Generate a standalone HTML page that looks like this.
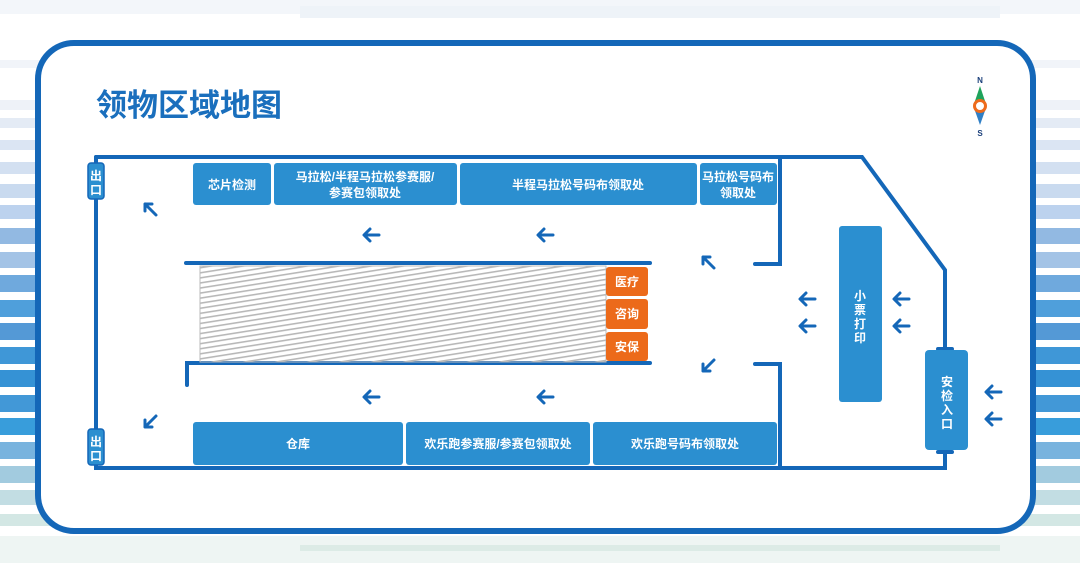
<!DOCTYPE html>
<html><head><meta charset="utf-8"><style>
html,body{margin:0;padding:0;background:#fff}
svg{display:block}
text{font-family:"Liberation Sans","Noto Sans CJK SC",sans-serif;font-weight:bold}
</style></head><body>
<svg width="1080" height="563" viewBox="0 0 1080 563" xmlns="http://www.w3.org/2000/svg">
<defs>
<pattern id="h" width="12" height="5" patternUnits="userSpaceOnUse" patternTransform="rotate(-9)">
<rect width="12" height="1.6" fill="#b8b8b8"/>
</pattern>
<path id="la" d="M-7 0 L7 0 M-2 -6 L-8 0 L-2 6"/>
</defs>
<rect width="1080" height="563" fill="#fff"/>
<rect x="0" y="0" width="1080" height="14" fill="#f3f6fa"/>
<rect x="300" y="6" width="700" height="12" fill="#eef3f8"/>
<rect x="0" y="536" width="1080" height="27" fill="#eef5f3"/>
<rect x="300" y="545" width="700" height="6" fill="#dcebe6"/>
<g>
<rect x="0" y="60" width="1080" height="8" fill="#f1f4f9"/>
<rect x="0" y="100" width="1080" height="10" fill="#eef2f8"/>
<rect x="0" y="118" width="1080" height="10" fill="#e4ebf5"/>
<rect x="0" y="140" width="1080" height="10" fill="#dbe5f3"/>
<rect x="0" y="162" width="1080" height="12" fill="#d3e0f1"/>
<rect x="0" y="184" width="1080" height="14" fill="#c9daef"/>
<rect x="0" y="205" width="1080" height="14" fill="#bcd2ee"/>
<rect x="0" y="228" width="1080" height="16" fill="#92b9e2"/>
<rect x="0" y="252" width="1080" height="16" fill="#a3c3e6"/>
<rect x="0" y="275" width="1080" height="17" fill="#6fa9dd"/>
<rect x="0" y="300" width="1080" height="17" fill="#4f9fdb"/>
<rect x="0" y="323" width="1080" height="17" fill="#5499d6"/>
<rect x="0" y="347" width="1080" height="17" fill="#3f97d7"/>
<rect x="0" y="370" width="1080" height="17" fill="#3592d5"/>
<rect x="0" y="395" width="1080" height="17" fill="#4298d7"/>
<rect x="0" y="418" width="1080" height="17" fill="#389ddb"/>
<rect x="0" y="442" width="1080" height="17" fill="#78b3de"/>
<rect x="0" y="466" width="1080" height="17" fill="#a2cbdf"/>
<rect x="0" y="490" width="1080" height="15" fill="#c2dde3"/>
<rect x="0" y="514" width="1080" height="12" fill="#d3e7e4"/>
</g>
<rect x="38" y="43" width="995" height="488" rx="36" fill="#fff" stroke="#1467b8" stroke-width="6"/>
<text x="96" y="116" font-size="31" fill="#1a6fbd">领物区域地图</text>
<text x="980" y="83" font-size="8" text-anchor="middle" fill="#1a3f7a">N</text>
<path d="M980 86 L986 104 L974 104Z" fill="#1fa35c"/>
<path d="M980 125 L986 108 L974 108Z" fill="#2f7fc6"/>
<circle cx="980" cy="106" r="5.5" fill="#fff" stroke="#ee6b1c" stroke-width="3"/>
<text x="980" y="136" font-size="8" text-anchor="middle" fill="#1a3f7a">S</text>
<g fill="none" stroke="#1467b8" stroke-width="4" stroke-linecap="round">
<path d="M96 157 L862 157 L945 270 L945 348"/>
<path d="M96 157 L96 468 L945 468 L945 452"/>
<path d="M780 157 L780 264 L755 264"/>
<path d="M755 364 L780 364 L780 468"/>
<path d="M186 263 L650 263"/>
<path d="M187 385 L187 363 L650 363"/>
<path d="M938 349 L952 349 M938 452 L952 452"/>
</g>
<rect x="88" y="163" width="16" height="36" rx="3" fill="#2b8fd0" stroke="#1467b8" stroke-width="1.5"/>
<text x="96" y="180" font-size="12" text-anchor="middle" fill="#fff">出</text>
<text x="96" y="194" font-size="12" text-anchor="middle" fill="#fff">口</text>
<rect x="88" y="429" width="16" height="36" rx="3" fill="#2b8fd0" stroke="#1467b8" stroke-width="1.5"/>
<text x="96" y="446" font-size="12" text-anchor="middle" fill="#fff">出</text>
<text x="96" y="460" font-size="12" text-anchor="middle" fill="#fff">口</text>
<rect x="200" y="266" width="406" height="96" fill="url(#h)" stroke="#bbb" stroke-width="1"/>
<g fill="#2b8fd0">
<rect x="193" y="163" width="78" height="42" rx="3"/>
<rect x="274" y="163" width="183" height="42" rx="3"/>
<rect x="460" y="163" width="237" height="42" rx="3"/>
<rect x="700" y="163" width="77" height="42" rx="3"/>
<rect x="193" y="422" width="210" height="43" rx="3"/>
<rect x="406" y="422" width="184" height="43" rx="3"/>
<rect x="593" y="422" width="184" height="43" rx="3"/>
<rect x="839" y="226" width="43" height="176" rx="3"/>
<rect x="925" y="350" width="43" height="100" rx="4"/>
</g>
<g fill="#ec6a1a">
<rect x="606" y="267" width="42" height="29" rx="3"/>
<rect x="606" y="299" width="42" height="30" rx="3"/>
<rect x="606" y="332" width="42" height="29" rx="3"/>
</g>
<g fill="#fff" font-size="12" text-anchor="middle">
<text x="232" y="189">芯片检测</text>
<text x="365" y="181">马拉松/半程马拉松参赛服/</text>
<text x="365" y="197">参赛包领取处</text>
<text x="578" y="189">半程马拉松号码布领取处</text>
<text x="738" y="181">马拉松号码布</text>
<text x="738" y="197">领取处</text>
<text x="298" y="448">仓库</text>
<text x="498" y="448">欢乐跑参赛服/参赛包领取处</text>
<text x="685" y="448">欢乐跑号码布领取处</text>
<text x="627" y="286">医疗</text>
<text x="627" y="318">咨询</text>
<text x="627" y="351">安保</text>
<text x="860" y="300">小</text>
<text x="860" y="314">票</text>
<text x="860" y="328">打</text>
<text x="860" y="342">印</text>
<text x="947" y="386">安</text>
<text x="947" y="400">检</text>
<text x="947" y="414">入</text>
<text x="947" y="428">口</text>
</g>
<g fill="none" stroke="#1467b8" stroke-width="3" stroke-linecap="round" stroke-linejoin="round">
<use href="#la" x="372" y="235"/><use href="#la" x="546" y="235"/>
<use href="#la" x="372" y="397"/><use href="#la" x="546" y="397"/>
<use href="#la" x="808" y="299"/><use href="#la" x="808" y="326"/>
<use href="#la" x="902" y="299"/><use href="#la" x="902" y="326"/>
<use href="#la" x="994" y="392"/><use href="#la" x="994" y="419"/>
<path d="M156 215 L145 204 M145 211 L145 204 L152 204"/>
<path d="M714 268 L703 257 M703 264 L703 257 L710 257"/>
<path d="M156 416 L145 427 M145 420 L145 427 L152 427"/>
<path d="M714 360 L703 371 M703 364 L703 371 L710 371"/>
</g>
</svg>
</body></html>
